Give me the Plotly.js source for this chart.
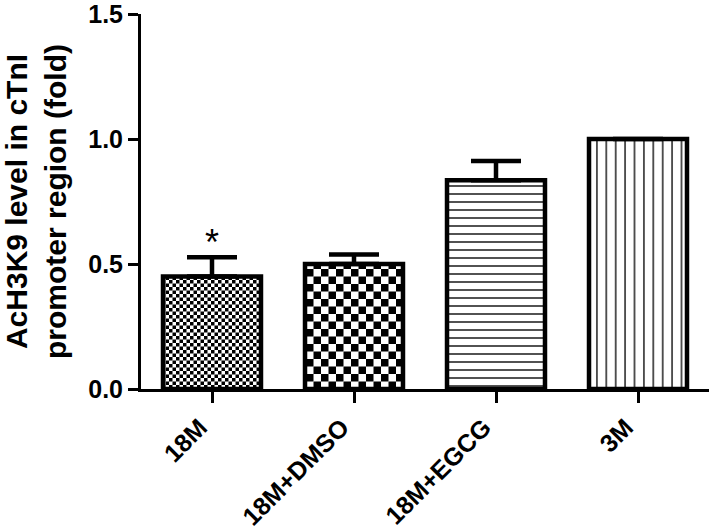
<!DOCTYPE html>
<html lang="en">
<head>
<meta charset="UTF-8">
<title>AcH3K9 level in cTnI promoter region</title>
<script src="https://cdn.plot.ly/plotly-3.0.1.min.js"></script>
<style>
  html, body { margin: 0; padding: 0; background: #fff; }
  #chart { width: 709px; height: 532px; }
</style>
</head>
<body>
<div id="chart"></div>
<script>
  // values
  const groups = ["18M", "18M+DMSO", "18M+EGCG", "3M"];
  const foldLevel = [0.45, 0.50, 0.835, 1.0];
  const semUp = [0.077, 0.038, 0.077, 0];
  const sigMarks = ["*", "", "", ""];
  const yTicks = [0, 0.5, 1.0, 1.5];

  const boldFont = (size) => ({ family: "Arial, 'Liberation Sans', sans-serif", size: size, color: "#000", weight: "bold" });

  const bars = {
    type: "bar",
    x: groups,
    y: foldLevel,
    width: 0.69,
    marker: {
      color: "#fff",
      line: { color: "#000", width: 4.5 },
      pattern: {
        // "+" cells get turned into checks after render
        shape: ["+", "+", "-", "|"],
        size: [7, 15, 8, 9.4],
        solidity: [0.5, 0.5, 0.17, 0.14],
        fgcolor: "#000",
        bgcolor: "#fff",
        fillmode: "replace"
      }
    },
    error_y: {
      type: "data",
      symmetric: false,
      array: semUp,
      arrayminus: semUp.map(() => 0),
      color: "#000",
      thickness: 4.5,
      width: 25
    },
    hoverinfo: "skip"
  };

  // significance stars sit just above the error cap
  const stars = sigMarks.map((s, i) => ({
    x: groups[i], y: foldLevel[i] + semUp[i], text: s,
    showarrow: false, yanchor: "bottom", yshift: -8,
    font: { family: "Arial, 'Liberation Sans', sans-serif", size: 36, color: "#000" }
  })).filter(a => a.text);

  const layout = {
    width: 709,
    height: 532,
    margin: { l: 141, r: 0, t: 14, b: 143 },
    paper_bgcolor: "#fff",
    plot_bgcolor: "#fff",
    showlegend: false,
    xaxis: {
      type: "category",
      range: [-0.5, 3.5],
      showline: true, linecolor: "#000", linewidth: 3,
      ticks: "outside", ticklen: 11, tickwidth: 3, tickcolor: "#000",
      tickangle: -45,
      ticklabelshift: -12,
      tickfont: boldFont(25),
      showgrid: false, zeroline: false
    },
    yaxis: {
      range: [0, 1.5001],
      tickvals: yTicks,
      tickformat: ".1f",
      ticklabeloverflow: "allow",
      showline: true, linecolor: "#000", linewidth: 3,
      ticks: "outside", ticklen: 10, tickwidth: 3, tickcolor: "#000",
      tickfont: boldFont(25),
      showgrid: false, zeroline: false,
      title: {
        text: "AcH3K9 level in cTnI<br>promoter region (fold)",
        font: boldFont(30),
        standoff: 17
      }
    },
    annotations: stars
  };

  Plotly.newPlot("chart", [bars], layout, { staticPlot: true }).then((gd) => {
    // swap the "+" textures for checkerboards
    gd.querySelectorAll("pattern").forEach((p) => {
      const s = parseFloat(p.getAttribute("width"));
      if (s !== 7 && s !== 15) return;
      const h = s / 2;
      p.innerHTML =
        `<rect x="0" y="0" width="${s}" height="${s}" fill="#fff"/>` +
        `<rect x="0" y="0" width="${h}" height="${h}" fill="#000"/>` +
        `<rect x="${h}" y="${h}" width="${h}" height="${h}" fill="#000"/>`;
    });
  });
</script>
</body>
</html>
